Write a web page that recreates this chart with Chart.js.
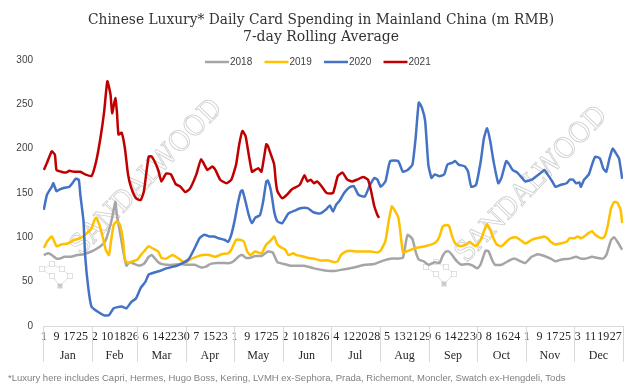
<!DOCTYPE html>
<html lang="en">
<head>
    <meta charset="UTF-8" />
    <title>Chinese Luxury Daily Card Spending</title>
    <script src="https://cdn.jsdelivr.net/npm/chart.js@4.4.1/dist/chart.umd.min.js"></script>
    <style>
        html, body { margin: 0; padding: 0; background: #fff; }
        #spendChart { display: block; }
    </style>
</head>
<body>
    <canvas id="spendChart" width="642" height="388"></canvas>
    <script>
        // day of year (1-365) and 7-day rolling average, m RMB
        const days2018 = [1,4,6,9,11,14,18,22,26,31,35,38,40,42,44,46,47,50,51,53,55,58,61,64,67,69,73,75,78,82,87,91,96,100,103,106,110,114,118,121,124,126,128,131,134,138,142,145,148,152,156,161,165,171,177,184,190,196,203,209,215,220,224,227,229,230,233,235,237,240,243,247,250,252,254,256,258,261,264,268,271,274,276,279,281,283,285,289,293,297,301,304,308,312,316,320,323,327,332,336,339,342,346,349,353,355,358,360,362,365];
        const spend2018 = [80,82,80,76,76,78,78,80,81,84,88,92,97,108,122,140,125,95,84,68,72,70,68,70,78,80,72,70,69,69,70,69,69,66,67,70,71,71,71,74,79,80,77,77,79,79,84,83,72,70,68,68,68,65,63,62,64,66,69,70,74,76,76,77,96,103,98,84,75,73,69,72,71,79,84,84,80,73,69,70,68,65,70,85,84,75,69,69,73,76,73,71,78,81,79,76,73,75,76,78,76,76,78,77,76,80,97,100,95,86];

        const days2019 = [1,3,6,9,12,16,20,24,27,31,33,34,36,38,40,42,43,45,47,49,51,52,54,57,60,62,64,67,69,73,75,78,82,86,90,93,97,101,105,109,113,117,119,122,125,127,129,131,134,138,141,143,145,146,148,150,153,155,158,160,163,167,171,175,180,184,186,188,191,194,198,202,207,211,213,216,218,220,221,224,225,227,229,232,235,238,241,245,248,250,252,254,256,258,260,263,267,269,271,273,276,278,280,282,284,286,289,292,295,298,301,304,308,311,314,316,318,320,323,326,330,332,335,337,339,341,344,346,348,352,354,356,358,360,362,364,365];
        const spend2019 = [88,95,101,90,92,93,97,99,103,110,120,122,114,101,86,80,92,114,118,114,95,75,71,73,75,80,84,90,88,84,77,76,80,76,71,75,78,80,80,78,81,82,86,97,97,95,84,80,84,82,92,95,99,101,92,89,86,80,82,80,79,77,76,74,74,72,73,80,84,85,84,84,84,83,85,96,118,135,133,123,112,83,84,86,88,89,90,92,95,101,112,114,113,101,93,90,92,95,92,90,97,107,115,108,99,92,90,95,99,100,97,93,97,99,100,101,99,95,92,93,95,99,99,101,99,101,105,107,103,99,101,114,133,140,139,131,116];

        const days2020 = [1,3,6,7,9,11,14,17,19,21,23,24,26,27,29,31,35,39,42,45,50,53,56,59,62,65,67,70,74,78,85,92,96,99,102,105,108,111,115,117,119,121,123,125,126,128,130,132,134,137,139,141,142,144,146,148,151,155,160,163,167,171,175,179,181,183,185,187,190,193,196,199,203,206,209,211,213,216,217,219,224,227,230,233,235,237,239,241,243,245,247,250,253,255,258,260,262,266,268,270,273,276,278,280,282,284,287,289,292,294,296,299,302,304,308,311,314,316,318,321,323,326,330,332,334,336,338,339,341,344,346,348,351,353,355,357,359,361,363,364,365];
        const spend2020 = [131,148,157,161,152,154,156,157,161,166,165,148,118,80,43,22,16,12,12,20,22,20,27,31,43,50,58,60,62,65,68,75,88,99,103,101,101,99,97,95,103,118,137,152,153,140,125,116,122,125,140,163,164,152,129,118,116,127,131,133,133,128,127,132,136,129,137,141,150,156,158,148,146,158,167,165,157,163,171,186,186,174,176,182,212,252,246,231,182,167,171,169,171,182,184,186,182,180,174,157,159,186,212,223,208,186,161,167,186,182,176,173,167,163,165,169,173,176,171,163,157,159,161,165,165,161,162,157,165,171,182,191,189,178,174,189,200,195,189,178,166];

        const days2021 = [1,3,6,8,9,12,15,17,20,24,27,31,34,37,39,41,43,44,46,47,48,50,52,54,56,59,62,64,67,69,73,75,78,81,84,87,90,93,97,100,104,107,109,112,116,119,122,124,126,128,130,132,134,136,138,141,142,144,146,147,148,151,154,157,162,165,167,169,171,173,176,179,183,186,189,192,195,198,202,205,207,209,211,212];
        const spend2021 = [176,184,197,193,176,174,173,175,174,174,171,169,186,216,242,276,261,240,257,242,216,218,201,171,156,144,142,152,191,191,176,163,172,171,160,157,151,155,171,188,176,180,176,165,161,165,182,205,220,214,193,174,176,178,174,205,203,193,182,163,152,144,148,154,159,170,163,165,161,163,157,150,150,169,173,165,163,165,168,165,152,135,125,122];

        const yearLabels = ['2018', '2019', '2020', '2021'];
        const monthNames = ['Jan','Feb','Mar','Apr','May','Jun','Jul','Aug','Sep','Oct','Nov','Dec'];
        const monthDays = [31,28,31,30,31,30,31,31,30,31,30,31];
        // every 8th day, shown as day of month
        const dayLabels = ['1','9','17','25','2','10','18','26','6','14','22','30','7','15','23','1','9','17','25','2','10','18','26','4','12','20','28','5','13','21','29','6','14','22','30','8','16','24','1','9','17','25','3','11','19','27'];
        const footnote = '*Luxury here includes Capri, Hermes, Hugo Boss, Kering, LVMH ex-Sephora, Prada, Richemont, Moncler, Swatch ex-Hengdeli, Tods';

        const colors = ['#A5A5A5', '#FFC000', '#4472C4', '#C00000'];
        const allDays = [days2018, days2019, days2020, days2021];
        const allSpend = [spend2018, spend2019, spend2020, spend2021];

        const monthEdges = [0];
        monthDays.forEach(d => monthEdges.push(monthEdges[monthEdges.length - 1] + d));
        const monthMids = monthNames.map((_, i) => (monthEdges[i] + monthEdges[i + 1]) / 2 + 0.5);

        const datasets = yearLabels.map((year, i) => ({
            label: year,
            data: allDays[i].map((d, j) => ({ x: d, y: allSpend[i][j] })),
            borderColor: colors[i],
            backgroundColor: colors[i],
            borderWidth: 2.5,
            pointRadius: 0,
            tension: 0.15,
            fill: false,
            order: 3 - i
        }));

        // small network logo next to each watermark
        function drawLogo(c, ox, oy) {
            const nodes = [[0, 5], [10, 0], [20, 5], [10, 12], [28, 12], [18, 22]];
            c.strokeStyle = 'rgba(150,150,150,0.35)';
            c.lineWidth = 0.8;
            c.beginPath();
            [[0, 1], [1, 2], [0, 3], [2, 4], [3, 5], [4, 5]].forEach(([a, b]) => {
                c.moveTo(ox + nodes[a][0], oy + nodes[a][1]);
                c.lineTo(ox + nodes[b][0], oy + nodes[b][1]);
            });
            c.stroke();
            nodes.forEach(([nx, ny], k) => {
                if (k === 5) {
                    c.fillStyle = 'rgba(150,150,150,0.45)';
                    c.fillRect(ox + nx - 2.5, oy + ny - 2.5, 5, 5);
                } else {
                    c.fillStyle = '#fff';
                    c.fillRect(ox + nx - 2.5, oy + ny - 2.5, 5, 5);
                    c.strokeRect(ox + nx - 2.5, oy + ny - 2.5, 5, 5);
                }
            });
        }

        // title, legend, month separators, watermark, footnote
        const decor = {
            id: 'decor',
            beforeDatasetsDraw(chart) {
                const c = chart.ctx;
                c.save();
                c.font = '28px "DejaVu Serif"';
                c.strokeStyle = 'rgba(140,140,140,0.45)';
                c.lineWidth = 0.8;
                c.textAlign = 'center';
                c.textBaseline = 'middle';
                [[147, 178], [532, 185]].forEach(([x, y]) => {
                    c.save();
                    c.translate(x, y);
                    c.rotate(-46 * Math.PI / 180);
                    c.strokeText('SANDALWOOD', 0, 0, 205);
                    c.restore();
                });
                drawLogo(c, 42, 264);
                drawLogo(c, 426, 262);
                c.restore();
            },
            afterDraw(chart) {
                const c = chart.ctx;
                const xs = chart.scales.x;
                const bottom = chart.chartArea.bottom;
                c.save();

                c.strokeStyle = '#d9d9d9';
                c.lineWidth = 1;
                monthEdges.forEach(e => {
                    const px = Math.round(xs.getPixelForValue(e + 0.5)) + 0.5;
                    c.beginPath();
                    c.moveTo(px, bottom);
                    c.lineTo(px, 362);
                    c.stroke();
                });

                c.fillStyle = '#333';
                c.textAlign = 'center';
                c.textBaseline = 'alphabetic';
                c.font = '15px "DejaVu Serif"';
                c.fillText('Chinese Luxury* Daily Card Spending in Mainland China (m RMB)', 321, 24, 466);
                c.fillText('7-day Rolling Average', 321, 41, 156);

                c.font = '10px "Liberation Sans"';
                c.textAlign = 'left';
                c.textBaseline = 'middle';
                let lx = 205;
                yearLabels.forEach((year, i) => {
                    c.strokeStyle = colors[i];
                    c.lineWidth = 2.5;
                    c.beginPath();
                    c.moveTo(lx, 62);
                    c.lineTo(lx + 24, 62);
                    c.stroke();
                    c.fillStyle = '#404040';
                    c.fillText(year, lx + 25, 62.5);
                    lx += 59.5;
                });

                c.font = '9.5px "Liberation Sans"';
                c.fillStyle = '#7f7f7f';
                c.textBaseline = 'alphabetic';
                c.fillText(footnote, 8, 381, 560);
                c.restore();
            }
        };

        const tickFont = { family: '"Liberation Serif"', size: 12 };

        new Chart(document.getElementById('spendChart'), {
            type: 'line',
            data: { datasets },
            options: {
                responsive: false,
                animation: false,
                devicePixelRatio: 1,
                layout: { padding: { top: 60, right: 19, bottom: 20, left: 0 } },
                plugins: { legend: { display: false }, tooltip: { enabled: false } },
                scales: {
                    x: {
                        type: 'linear', position: 'bottom', weight: 0,
                        min: 0.5, max: 365.5,
                        afterBuildTicks: s => { s.ticks = dayLabels.map((_, i) => ({ value: 1 + 8 * i })); },
                        afterFit: s => { s.height = 20; },
                        ticks: {
                            autoSkip: false, maxRotation: 0, padding: 4,
                            font: tickFont, color: '#262626',
                            callback: (v, i) => dayLabels[i]
                        },
                        grid: { display: false, drawTicks: false },
                        border: { display: true, color: '#d9d9d9' }
                    },
                    month: {
                        type: 'linear', position: 'bottom', weight: 1,
                        min: 0.5, max: 365.5,
                        afterBuildTicks: s => { s.ticks = monthMids.map(v => ({ value: v })); },
                        afterFit: s => { s.height = 22; },
                        ticks: {
                            autoSkip: false, maxRotation: 0, padding: 3,
                            font: tickFont, color: '#262626',
                            callback: (v, i) => monthNames[i]
                        },
                        grid: { display: false, drawTicks: false },
                        border: { display: false }
                    },
                    y: {
                        min: 0, max: 300,
                        afterFit: s => { s.width = 43; },
                        ticks: {
                            stepSize: 50, padding: 10,
                            font: { family: '"Liberation Sans"', size: 10 }, color: '#404040'
                        },
                        grid: { display: false, drawTicks: false },
                        border: { display: false }
                    }
                }
            },
            plugins: [decor]
        });
    </script>
</body>
</html>
